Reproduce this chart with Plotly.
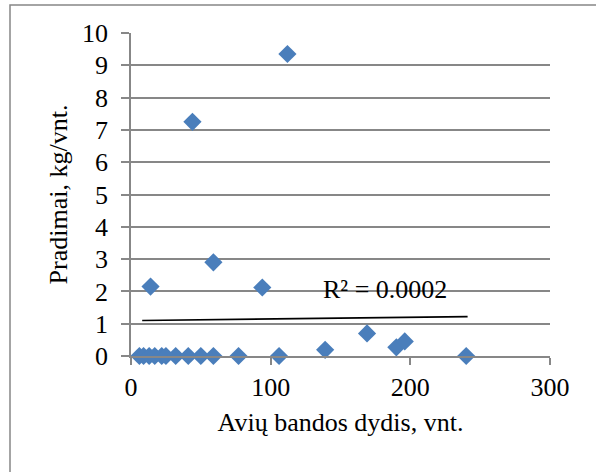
import plotly.graph_objects as go

# Data
herd_size = [6, 9, 13, 17, 22, 25, 32, 41, 50, 59, 77, 106, 240,
             14, 44, 59, 94, 112, 139, 169, 190, 196]
losses = [0, 0, 0, 0, 0, 0, 0, 0, 0, 0, 0, 0, 0,
          2.15, 7.25, 2.9, 2.12, 9.35, 0.19, 0.7, 0.27, 0.45]

trend_x = [8, 241]
trend_y = [1.1, 1.22]

r2_text = "R² = 0.0002"
x_title = "Avių bandos dydis, vnt."
y_title = "Pradimai, kg/vnt."

FONT = "Liberation Serif"
GRID = "#878787"
f = dict(family=FONT, size=26, color="black")

fig = go.Figure()
fig.add_trace(go.Scatter(
    x=herd_size, y=losses, mode="markers",
    marker=dict(symbol="diamond", size=14, color="#4A7EBB",
                line=dict(width=0)),
    cliponaxis=False, showlegend=False,
))
fig.add_trace(go.Scatter(
    x=trend_x, y=trend_y, mode="lines",
    line=dict(color="black", width=1.6), showlegend=False,
))

fig.add_annotation(x=182, y=2.05, xref="x", yref="y", text=r2_text,
                   showarrow=False, font=f)

# outer chart frame
fig.add_shape(type="rect", xref="paper", yref="paper",
              x0=(10 - 131) / 419, x1=(620 - 131) / 419,
              y0=(356 - 500) / 323, y1=(356 - 5) / 323,
              line=dict(color=GRID, width=1.5), layer="above")

fig.update_layout(
    width=596, height=472,
    margin=dict(l=131, r=46, t=33, b=116),
    paper_bgcolor="white", plot_bgcolor="white",
    font=f,
    xaxis=dict(range=[0, 300], dtick=100, showgrid=False,
               showline=True, linecolor=GRID, linewidth=1.5,
               ticks="outside", ticklen=7, tickcolor=GRID, tickwidth=1.5,
               ticklabelstandoff=0, zeroline=False, tickfont=f,
               title=dict(text=x_title, standoff=12, font=f)),
    yaxis=dict(range=[0, 10], dtick=1, showgrid=True, gridcolor=GRID, gridwidth=1.5,
               showline=True, linecolor=GRID, linewidth=1.5,
               ticks="outside", ticklen=8, tickcolor=GRID, tickwidth=1.5,
               ticklabelstandoff=8, zeroline=False, tickfont=f,
               title=dict(text=y_title, standoff=7, font=f)),
)

fig.write_html("out.html")
